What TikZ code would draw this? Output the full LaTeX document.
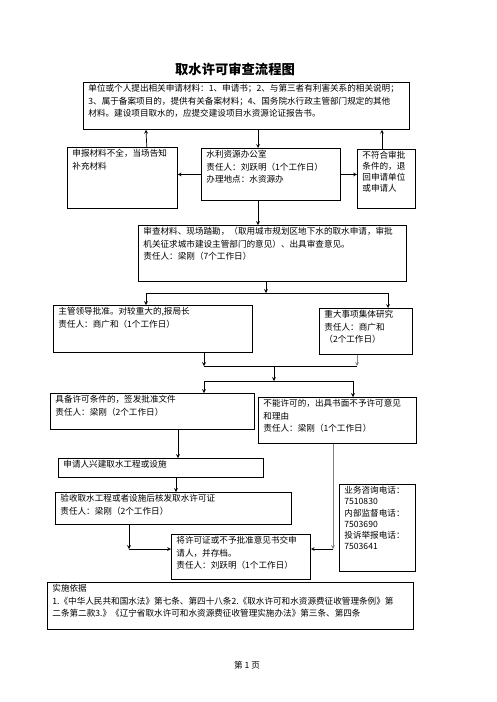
\documentclass[tikz,border=0pt]{standalone}
\usepackage{fontspec}
\setmainfont{Noto Sans CJK SC}
\usetikzlibrary{arrows}
\tikzstyle{arrow} = [line width=0.7pt,->,>=stealth]
\tikzstyle{flowbox} = [draw,line width=0.8pt,anchor=north west,inner xsep=5pt,inner ysep=2pt,font=\fontsize{8.6}{12.5}\selectfont]
\newcommand{\boxtext}[3]{\parbox[t][#2][t]{#1}{\raggedright #3}}

\begin{document}
\begin{tikzpicture}[x=1pt,y=-1pt]
          % page
          \fill[white] (0,0) rectangle (496,702);
          \useasboundingbox (0,0) rectangle (496,702);
          \node[font=\fontsize{13.3}{16}\selectfont\bfseries] (title) at (235,69) {取水许可审查流程图};

          % boxes
          \node[flowbox] (apply) at (83,82) {\boxtext{316pt}{43pt}{单位或个人提出相关申请材料：1、申请书；2、与第三者有利害关系的相关说明；\\3、属于备案项目的，提供有关备案材料；4、国务院水行政主管部门规定的其他\\材料。建设项目取水的，应提交建设项目水资源论证报告书。}};
          \node[flowbox] (lack) at (67,147) {\boxtext{100pt}{57pt}{申报材料不全，当场告知\\补充材料}};
          \node[flowbox] (office) at (201,148) {\boxtext{129pt}{48pt}{水利资源办公室\\责任人：刘跃明（1个工作日）\\办理地点：水资源办}};
          \node[flowbox] (reject) at (357,149) {\boxtext{48pt}{55pt}{\fontsize{8.6}{11}\selectfont 不符合审批\\条件的，退\\回申请单位\\或申请人}};
          \node[flowbox] (review) at (138,225) {\boxtext{258pt}{52pt}{审查材料、现场踏勘，（取用城市规划区地下水的取水申请，审批\\机关征求城市建设主管部门的意见）、出具审查意见。\\责任人：梁刚（7个工作日）}};
          \node[flowbox] (leader) at (53,305) {\boxtext{189pt}{43pt}{主管领导批准。对较重大的,报局长\\责任人：商广和（1个工作日）}};
          \node[flowbox] (major) at (319,308) {\boxtext{83pt}{42pt}{重大事项集体研究\\责任人：商广和\\（2个工作日）}};
          \node[flowbox] (grant) at (50,393) {\boxtext{194pt}{32pt}{具备许可条件的，签发批准文件\\责任人：梁刚（2个工作日）}};
          \node[flowbox] (deny) at (258,397) {\boxtext{148pt}{42pt}{不能许可的，出具书面不予许可意见\\和理由\\责任人：梁刚（1个工作日）}};
          \node[flowbox] (build) at (58,458) {\boxtext{195pt}{15pt}{申请人兴建取水工程或设施}};
          \node[flowbox] (accept) at (55,492) {\boxtext{226pt}{28pt}{验收取水工程或者设施后核发取水许可证\\责任人：梁刚（2个工作日）}};
          \node[flowbox] (deliver) at (171,534) {\boxtext{129pt}{41pt}{将许可证或不予批准意见书交申\\请人，并存档。\\责任人：刘跃明（1个工作日）}};
          \node[flowbox] (phone) at (339,484) {\boxtext{66pt}{83pt}{\fontsize{8.6}{11.2}\selectfont 业务咨询电话：\\7510830\\内部监督电话：\\7503690\\投诉举报电话：\\7503641}};
          \node[flowbox] (basis) at (47,582) {\boxtext{356pt}{43pt}{实施依据\\1.《中华人民共和国水法》第七条、第四十八条2.《取水许可和水资源费征收管理条例》第\\二条第二款3.》《辽宁省取水许可和水资源费征收管理实施办法》第三条、第四条}};
          \node[font=\fontsize{8.6}{10}\selectfont] (page) at (247,665) {第 1 页};

          % first row
          \draw[arrow] ([xshift=-31pt]lack.north east) -- ([xshift=63pt]apply.south west);
          \draw[arrow] ([xshift=175pt]apply.south west) -- ([xshift=57pt]office.north west);
          \draw[arrow] ([xshift=25pt]reject.north west) -- ([xshift=299pt]apply.south west);
          \draw[arrow] (office.west) -- (office.west -| lack.east);
          \draw[arrow] (office.east) -- (office.east -| reject.west);
          \draw[arrow] ([xshift=57pt]office.south west) -- ([xshift=120pt]review.north west);

          % split and join
          \coordinate (fork) at (266,293);
          \coordinate (forkL) at (146,293);
          \coordinate (forkR) at (388,293);
          \draw[arrow] (fork |- review.south) -- (fork);
          \draw[line width=0.7pt] (forkL) -- (forkR);
          \draw[arrow] (forkL) -- (forkL |- leader.north);
          \draw[arrow] (forkR) -- (forkR |- major.north);
          \coordinate (joinL) at (204,366);
          \coordinate (joinR) at (357,366);
          \coordinate (join) at (274,366);
          \coordinate (fork2) at (274,381);
          \coordinate (fork2L) at (204,381);
          \coordinate (fork2R) at (353,381);
          \draw[arrow] (joinL |- leader.south) -- (joinL);
          \draw[arrow,gray] (joinR |- major.south) -- (joinR);
          \draw[line width=0.7pt] (joinL) -- (joinR);
          \draw[arrow] (join) -- (fork2);
          \draw[line width=0.7pt] (fork2L) -- (fork2R);
          \draw[arrow] (fork2L) -- (fork2L |- grant.north);
          \draw[arrow] (fork2R) -- (fork2R |- deny.north);

          % lower part
          \draw[arrow] ([xshift=128pt]grant.south west) -- ([xshift=120pt]build.north west);
          \draw[arrow] ([xshift=118pt]build.south west) -- ([xshift=121pt]accept.north west);
          \coordinate (bendL) at (129,549);
          \coordinate (bendR) at (333,549);
          \draw[arrow] (bendL |- accept.south) -- (bendL);
          \draw[arrow] (bendL) -- (bendL -| deliver.west);
          \draw[arrow,gray] (bendR |- deny.south) -- (bendR);
          \draw[arrow] (bendR) -- (bendR -| deliver.east);
\end{tikzpicture}
\end{document}
